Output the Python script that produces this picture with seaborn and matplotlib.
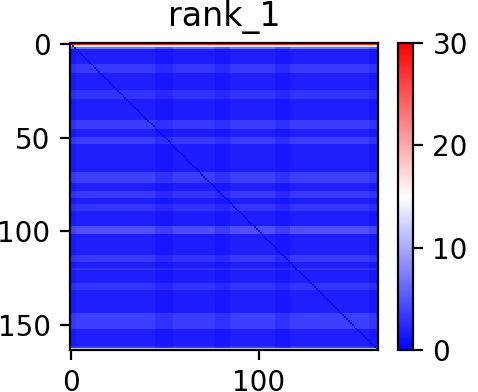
import numpy as np
import seaborn as sns
import matplotlib
matplotlib.use('Agg')
import matplotlib.pyplot as plt

# 행(residue) 방향 밴드: 값과 길이
row_band_values = [27, 14, 6, 1.6, 3.0, 1.6, 2.8, 1.6, 3.2, 1.6, 3.2, 1.6,
                   3.4, 1.6, 3.0, 1.6, 2.8, 1.6, 4.2, 1.6, 3.0, 1.6, 2.8,
                   1.6, 2.8, 1.6, 3.4, 1.6, 3.0, 13]
row_band_sizes = [1, 1, 1, 8, 5, 9, 5, 11, 5, 4, 4, 15,
                  6, 4, 4, 3, 4, 8, 4, 11, 4, 3, 1,
                  7, 4, 12, 9, 9, 1, 1]

# 열 방향 밝기 가중치
col_band_values = [0.95, 1.1, 0.85, 1.05, 0.85, 1.1, 0.85, 1.1, 0.95]
col_band_sizes = [3, 42, 10, 22, 8, 24, 8, 42, 5]

diag_value = 0.5
title = 'rank_1'
x_ticks = [0, 100]
y_ticks = [0, 50, 100, 150]
cbar_ticks = [0, 10, 20, 30]

row_profile = np.repeat(row_band_values, row_band_sizes).astype(float)
col_profile = np.repeat(col_band_values, col_band_sizes).astype(float)
n = len(row_profile)

pae = np.outer(row_profile, np.ones(n))
body = pae < 10
pae[body] = (np.outer(row_profile, col_profile))[body]
np.fill_diagonal(pae, diag_value)

fig = plt.figure(figsize=(2.39, 1.96), dpi=200)
ax = fig.add_axes([70 / 478, 42 / 392, 308 / 478, 307 / 392])
cax = fig.add_axes([398 / 478, 42 / 392, 15 / 478, 307 / 392])

sns.heatmap(pae, ax=ax, cbar_ax=cax, cmap='bwr', vmin=0, vmax=30,
            xticklabels=False, yticklabels=False,
            cbar_kws={'ticks': cbar_ticks})

for s in ax.spines.values():
    s.set_visible(True)
    s.set_linewidth(0.8)
ax.set_xticks([t + 0.5 for t in x_ticks])
ax.set_xticklabels([str(t) for t in x_ticks], rotation=0)
ax.set_yticks([t + 0.5 for t in y_ticks])
ax.set_yticklabels([str(t) for t in y_ticks], rotation=0)
ax.tick_params(labelsize=10, length=3.5, width=0.8)
ax.set_title(title, fontsize=12)

cb = ax.collections[0].colorbar
cb.outline.set_linewidth(0.8)
cb.outline.set_visible(True)
cax.tick_params(labelsize=10, length=3.5, width=0.8)

fig.savefig('out.png', dpi=200)
